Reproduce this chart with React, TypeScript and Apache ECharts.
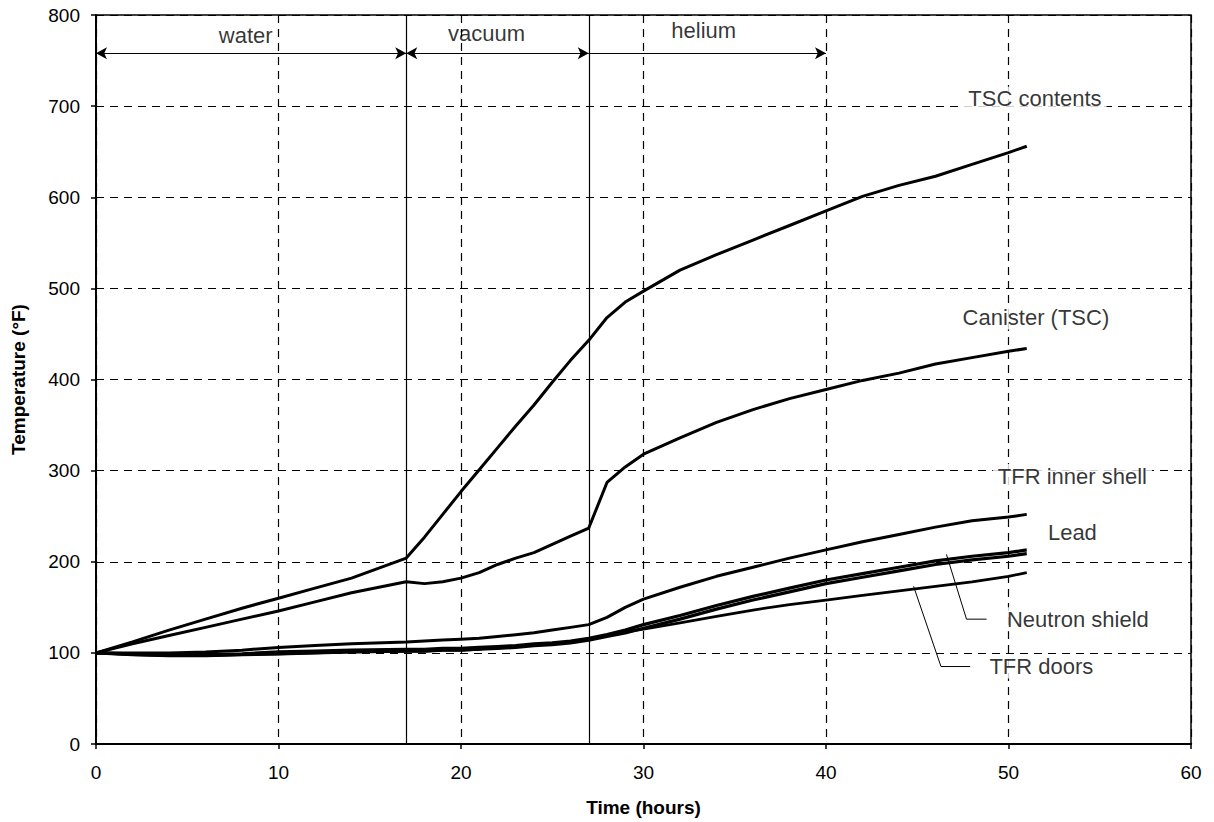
import React, { useEffect, useRef } from "react";
import * as echarts from "echarts";

const hours = [0, 2, 4, 6, 8, 10, 12, 14, 17, 18, 19, 20, 21, 22, 23, 24, 25, 26, 27, 28, 29, 30, 32, 34, 36, 38, 40, 42, 44, 46, 48, 50, 51];

const tscContents = [100, 112, 125, 137, 149, 160, 171, 182, 204, 227, 252, 277, 301, 325, 349, 372, 397, 421, 443, 468, 485, 497, 520, 537, 553, 569, 585, 601, 613, 623, 636, 649, 656];
const canister = [100, 110, 119, 128, 137, 146, 156, 166, 178, 176, 178, 182, 188, 197, 204, 210, 219, 228, 237, 287, 304, 318, 336, 353, 367, 379, 389, 399, 407, 417, 424, 431, 434];
const tfrInnerShell = [100, 100, 100, 101, 103, 106, 108, 110, 112, 113, 114, 115, 116, 118, 120, 122, 125, 128, 131, 139, 150, 159, 172, 184, 194, 204, 213, 222, 230, 238, 245, 249, 252];
const lead = [100, 99, 98, 98, 99, 101, 102, 103, 104, 104, 105, 105, 106, 107, 108, 110, 111, 113, 116, 120, 125, 131, 141, 152, 162, 171, 180, 187, 194, 201, 206, 210, 213];
const neutronShield = [100, 98, 97, 97, 98, 99, 100, 101, 102, 102, 103, 103, 104, 105, 106, 108, 109, 111, 114, 118, 122, 127, 137, 148, 158, 167, 176, 183, 190, 197, 202, 206, 209];
const tfrDoors = [100, 98, 97, 97, 98, 99, 100, 101, 102, 102, 103, 103, 104, 106, 107, 109, 110, 112, 115, 119, 123, 126, 133, 140, 147, 153, 158, 163, 168, 173, 178, 184, 188];

const curveNames = ["TSC contents", "Canister (TSC)", "TFR inner shell", "Lead", "Neutron shield", "TFR doors"];
const curveLabelPos: [number, number][] = [[51.45, 708], [51.5, 468], [53.5, 294], [53.5, 232], [53.8, 137], [51.8, 85]];

const phaseNames = ["water", "vacuum", "helium"];
const phaseLabelPos: [number, number][] = [[8.2, 778], [21.4, 780], [33.3, 783]];
const phaseStart = [0, 17, 27];
const phaseEnd = [17, 27, 40];
const phaseArrowY = 758;
const phaseBoundaries = [17, 27];

const neutronLeader: [number, number][] = [[46.6, 208], [47.7, 137], [48.8, 137]];
const doorsLeader: [number, number][] = [[44.8, 173], [46.3, 85], [47.9, 85]];

const xTicks = [0, 60, 10];
const yTicks = [0, 800, 100];

const FONT = "'Liberation Sans', Arial, sans-serif";

function zip(ys: number[]) {
  return hours.map((h, i) => [h, ys[i]]);
}

export default function App() {
  const ref = useRef<HTMLDivElement>(null);
  useEffect(() => {
    if (!ref.current) return;
    const chart = echarts.init(ref.current, null, { renderer: "svg" });
    const lineSeries = (name: string, ys: number[], width: number) => ({
      name,
      type: "line",
      data: zip(ys),
      symbol: "none",
      smooth: false,
      lineStyle: { color: "#000", width },
      z: 5,
    });
    const arrowData = phaseNames.map((_, i) => [
      { coord: [phaseStart[i], phaseArrowY], symbol: i === 2 ? "none" : "arrow" },
      { coord: [phaseEnd[i], phaseArrowY], symbol: "arrow" },
    ]);
    chart.setOption({
      animation: false,
      backgroundColor: "#fff",
      textStyle: { fontFamily: FONT, color: "#000" },
      grid: { left: 96, right: 23, top: 15, bottom: 77, show: true, borderColor: "#000", borderWidth: 1.5, containLabel: false },
      xAxis: {
        type: "value",
        min: xTicks[0],
        max: xTicks[1],
        interval: xTicks[2],
        name: "Time (hours)",
        nameLocation: "middle",
        nameGap: 54,
        nameTextStyle: { fontSize: 19, fontWeight: "bold", color: "#000", fontFamily: FONT },
        axisLine: { lineStyle: { color: "#000", width: 2 } },
        axisTick: { show: true, length: 5, lineStyle: { color: "#000", width: 1.5 } },
        axisLabel: { fontSize: 19, color: "#000", margin: 19, fontFamily: FONT },
        splitLine: { show: true, lineStyle: { color: "#000", type: [8, 6], width: 1.2 } },
      },
      yAxis: {
        type: "value",
        min: yTicks[0],
        max: yTicks[1],
        interval: yTicks[2],
        name: "Temperature (°F)",
        nameLocation: "middle",
        nameRotate: 90,
        nameGap: 68,
        nameTextStyle: { fontSize: 19, fontWeight: "bold", color: "#000", fontFamily: FONT },
        axisLine: { show: true, lineStyle: { color: "#000", width: 2 } },
        axisTick: { show: true, length: 5, lineStyle: { color: "#000", width: 1.5 } },
        axisLabel: { fontSize: 19, color: "#000", margin: 16, fontFamily: FONT },
        splitLine: { show: true, lineStyle: { color: "#000", type: [8, 6], width: 1.2 } },
      },
      series: [
        {
          name: "phase boundaries",
          type: "line",
          data: [],
          z: 3,
          markLine: {
            silent: true,
            animation: false,
            symbol: ["none", "none"],
            label: { show: false },
            lineStyle: { color: "#000", type: "solid", width: 1.2 },
            data: phaseBoundaries.map((b) => ({ xAxis: b })),
          },
        },
        {
          name: "phase arrows",
          type: "line",
          data: [],
          z: 3,
          markLine: {
            silent: true,
            animation: false,
            symbol: ["none", "none"],
            symbolSize: [9, 11],
            label: { show: false },
            lineStyle: { color: "#000", type: "solid", width: 1.2 },
            data: arrowData,
          },
        },
        lineSeries(curveNames[0], tscContents, 3),
        lineSeries(curveNames[1], canister, 3),
        lineSeries(curveNames[2], tfrInnerShell, 3),
        lineSeries(curveNames[3], lead, 3.2),
        lineSeries(curveNames[4], neutronShield, 3.2),
        lineSeries(curveNames[5], tfrDoors, 2.8),
        {
          name: "neutron leader",
          type: "line",
          data: neutronLeader,
          symbol: "none",
          lineStyle: { color: "#000", width: 1 },
          z: 4,
        },
        {
          name: "doors leader",
          type: "line",
          data: doorsLeader,
          symbol: "none",
          lineStyle: { color: "#000", width: 1 },
          z: 4,
        },
        {
          name: "curve labels",
          type: "scatter",
          symbolSize: 0,
          z: 6,
          data: curveNames.map((n, i) => ({ name: n, value: curveLabelPos[i] })),
          label: {
            show: true,
            position: "inside",
            formatter: (p: any) => p.name,
            fontSize: 22,
            color: "#000",
            fontFamily: FONT,
            backgroundColor: "#fff",
            padding: [1, 5],
          },
        },
        {
          name: "phase labels",
          type: "scatter",
          symbolSize: 0,
          z: 6,
          data: phaseNames.map((n, i) => ({ name: n, value: phaseLabelPos[i] })),
          label: {
            show: true,
            position: "inside",
            formatter: (p: any) => p.name,
            fontSize: 22,
            color: "#000",
            fontFamily: FONT,
          },
        },
      ],
    });
    return () => chart.dispose();
  }, []);
  return (
    <div
      ref={ref}
      style={{ position: "fixed", left: 0, top: 0, width: 1214, height: 822, background: "#fff" }}
    />
  );
}
